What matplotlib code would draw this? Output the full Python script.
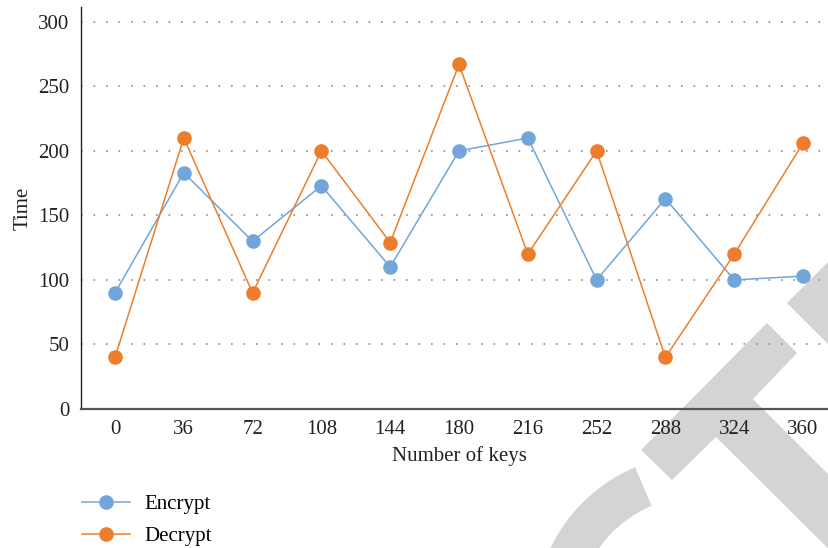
import numpy as np
import matplotlib
matplotlib.use('Agg')
from matplotlib import pyplot as plt
from matplotlib.patches import Polygon, Wedge
from matplotlib.transforms import Affine2D

keys = ['0', '36', '72', '108', '144', '180', '216', '252', '288', '324', '360']
encrypt = [90, 183, 130, 173, 110, 200, 210, 100, 163, 100, 103]
decrypt = [40, 210, 90, 200, 129, 267, 120, 200, 40, 120, 206]

plt.rcParams['font.family'] = ['Liberation Serif', 'DejaVu Serif']
plt.rcParams['font.size'] = 15

W, H = 829, 548
fig = plt.figure(figsize=(W / 100, H / 100), dpi=100)
ax = fig.add_axes([80.6 / W, (H - 409) / H, (837.4 - 80.6) / W, 402 / H])
ax.patch.set_alpha(0)

x = np.arange(len(keys))
ax.plot(x, encrypt, color='#72A6DA', lw=1.1, marker='o', ms=9.5, label='Encrypt', zorder=3)
ax.plot(x, decrypt, color='#EE7D2B', lw=1.1, marker='o', ms=9.5, label='Decrypt', zorder=4)

ax.set_xlim(-0.5, len(keys) - 0.5)
ax.set_ylim(0, 311.5)
ax.set_xticks(x)
ax.set_xticklabels(keys)
ax.set_yticks(np.arange(0, 301, 50))
ax.tick_params(length=0, colors='#222222')
ax.tick_params(axis='x', pad=8)
ax.tick_params(axis='y', pad=8)
for v in range(50, 301, 50):
    ax.axhline(v, color='#8c8c8c', lw=1.2, ls=(0, (1, 6.5)), zorder=1)
for s in ['top', 'right']:
    ax.spines[s].set_visible(False)
ax.spines['left'].set_color('#222222')
ax.spines['left'].set_linewidth(1.0)
ax.spines['bottom'].set_color('#555555')
ax.spines['bottom'].set_linewidth(1.6)
ax.set_xlabel('Number of keys', color='#222222', labelpad=5)
ax.set_ylabel('Time', color='#222222', labelpad=4)

fig.legend(loc='upper left', bbox_to_anchor=(74 / W, 1 - 486 / H), frameon=False,
           handlelength=2.3, handletextpad=0.7, labelspacing=0.6, borderaxespad=0)

# grey watermark in the lower right corner (pixel coordinates, y down)
pix = Affine2D().scale(1 / W, -1 / H).translate(0, 1) + fig.transFigure
grey = '#D4D4D4'
fig.patches.append(Polygon([(767, 323), (797, 353), (753, 399), (900, 546), (900, 620),
                            (716, 437), (672, 480), (641, 450)],
                           closed=True, fc=grey, ec='none', transform=pix, zorder=-1))
fig.patches.append(Polygon([(787, 303), (860, 230), (860, 376)],
                           closed=True, fc=grey, ec='none', transform=pix, zorder=-1))
fig.patches.append(Wedge((700, 620), 166, 150, 247, width=42,
                         fc=grey, ec='none', transform=pix, zorder=-1))

fig.savefig('out.png', dpi=100)
